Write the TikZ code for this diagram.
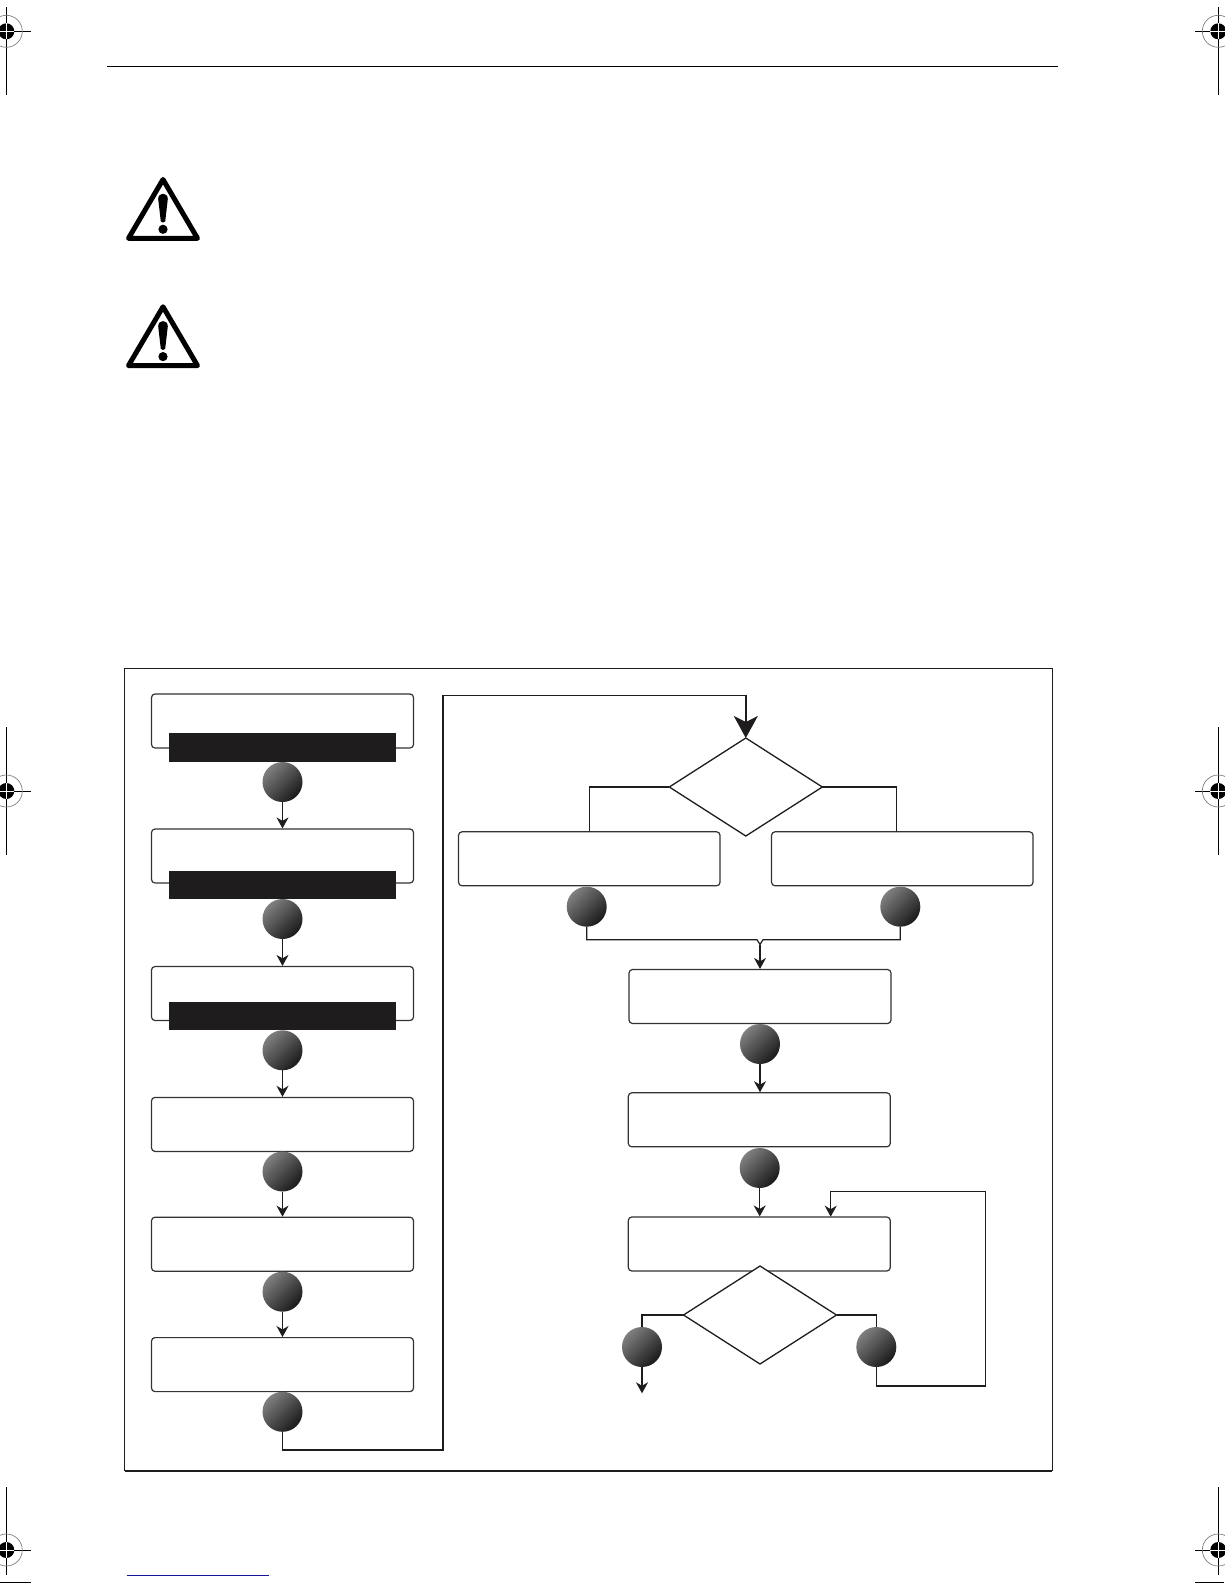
\documentclass[tikz,border=0pt]{standalone}
\usetikzlibrary{arrows.meta,shapes.geometric,calc}
\definecolor{ink}{HTML}{1E1C1C}
\definecolor{boxline}{HTML}{333333}
\definecolor{navyline}{HTML}{15159A}
\colorlet{ballhi}{black!50}
\colorlet{balllo}{black!90}
\tikzset{
  x=1pt,y=-1pt,
  procbox/.style={draw=boxline,line width=1.2pt,rounded corners=3.5pt,fill=white,minimum width=262pt,minimum height=54pt,inner sep=0pt},
  blackbar/.style={fill=ink,draw=none,minimum width=227pt,inner sep=0pt,outer sep=0pt},
  ball/.style={circle,draw=none,minimum size=40pt,inner sep=0pt,outer sep=0pt,top color=ballhi,bottom color=balllo,shading angle=45},
  choice/.style={diamond,draw=ink,line width=1.3pt,fill=white,inner sep=0pt,outer sep=0pt,minimum width=153pt,minimum height=98pt},
  conn/.style={draw=ink,line width=1.2pt},
  heavyconn/.style={draw=ink,line width=1.5pt},
  tiparrow/.style={conn,-{Stealth[length=11pt,width=12pt,inset=3.5pt]}},
  bigarrow/.style={heavyconn,-{Stealth[length=22pt,width=24pt,inset=6pt]}},
  hairline/.style={draw=black,line width=1pt},
  regmark/.pic={
    \draw[gray,line width=.7pt] (0,0) circle[radius=16];
    \fill[black] (0,0) circle[radius=8];
    \draw[white,line width=.9pt] (-8,0)--(8,0) (0,-8)--(0,8);
  }
}
\newcommand{\warnsign}[1]{%
  \begin{scope}[yshift=#1]
    \draw[black,line width=5pt,line join=round] (163,179.5)--(197.5,238.3)--(128.5,238.3)--cycle;
    \fill[black] (158.2,199) .. controls (158.2,192) and (167.8,192) .. (167.8,199)
      -- (165.2,221.5) .. controls (164.8,223) and (161.2,223) .. (160.8,221.5) -- cycle;
    \fill[black] (163,229.3) circle[radius=4.6];
  \end{scope}}
\begin{document}
\begin{tikzpicture}
\useasboundingbox (0,0) rectangle (1224,1584);
\fill[white] (0,0) rectangle (1224,1584);
% header rule
\coordinate (hl) at (107,66.3); \coordinate (hr) at (1058,66.3);
\draw[black,line width=1.1pt] (hl)--(hr);
% registration marks
\draw[hairline] (6.3,7)--(6.3,95) (6.3,31.3)--(31,31.3);
\draw[hairline] (1218.3,7)--(1218.3,95) (1218.3,31.3)--(1195,31.3);
\draw[hairline] (6.3,727)--(6.3,855) (6.3,791)--(31,791);
\draw[hairline] (1218.3,727)--(1218.3,855) (1218.3,791)--(1195,791);
\draw[hairline] (6.3,1487)--(6.3,1575) (6.3,1550)--(31,1550);
\draw[hairline] (1218.3,1487)--(1218.3,1575) (1218.3,1550)--(1195,1550);
\draw[hairline] (0,1582.3)--(31,1582.3) (1195,1582.3)--(1224,1582.3);
\pic at (6.3,31.3) {regmark};
\pic at (1218.3,31.3) {regmark};
\pic at (6.3,791) {regmark};
\pic at (1218.3,791) {regmark};
\pic at (6.3,1550) {regmark};
\pic at (1218.3,1550) {regmark};
% warning signs
\warnsign{0pt}
\warnsign{-127.3pt}
% footer rule
\coordinate (fl) at (126.7,1575); \coordinate (fr) at (268.7,1575);
\draw[navyline,line width=1pt] (fl)--(fr);
% frame
\coordinate (ftl) at (124.5,668.3); \coordinate (fbr) at (1052.3,1470.5);
\draw[ink,line width=1.2pt] (ftl) rectangle (fbr);
\draw[ink,line width=2pt] (ftl |- fbr) -- (fbr);
% left column
\node[procbox] (b1) at (282.5,721) {};
\node[blackbar,minimum height=28.7pt] (bar1) at (282.5,747.3) {};
\node[ball] (c1) at (282.5,782) {};
\node[procbox] (b2) at (282.5,856) {};
\node[blackbar,minimum height=27.7pt] (bar2) at (282.5,884.9) {};
\node[ball] (c2) at (282.5,919) {};
\node[procbox] (b3) at (282.5,993.5) {};
\node[blackbar,minimum height=28pt] (bar3) at (282.5,1016.3) {};
\node[ball] (c3) at (282.5,1050.3) {};
\node[procbox] (b4) at (282.5,1124.4) {};
\node[ball] (c4) at (282.5,1171.5) {};
\node[procbox] (b5) at (282.5,1244.2) {};
\node[ball] (c5) at (282.5,1291.7) {};
\node[procbox] (b6) at (282.5,1364.6) {};
\node[ball] (c6) at (282.5,1411.8) {};
\draw[tiparrow] (c1.south)--(b2.north);
\draw[tiparrow] (c2.south)--(b3.north);
\draw[tiparrow] (c3.south)--(b4.north);
\draw[tiparrow] (c4.south)--(b5.north);
\draw[tiparrow] (c5.south)--(b6.north);
% right column
\node[choice] (d1) at (745.8,787) {};
\node[procbox,minimum width=261.5pt] (m1) at (589.3,858.8) {};
\node[procbox,minimum width=261.5pt] (m2) at (902.3,858.8) {};
\node[ball] (cl) at (586.7,906.7) {};
\node[ball] (cr) at (900.3,906.7) {};
\node[procbox] (b7) at (760,996.5) {};
\node[ball] (c7) at (760,1044) {};
\node[procbox] (b8) at (759.3,1119.8) {};
\node[ball] (c8) at (759.7,1168) {};
\node[procbox] (b9) at (759.3,1244) {};
\node[choice] (d2) at (760,1315) {};
\node[ball] (c9) at (642,1347) {};
\node[ball] (c10) at (876.3,1347) {};
% long link to the first decision
\coordinate (lb) at (443,1450);
\coordinate (lt) at (443,695.3);
\draw[bigarrow] (c6.south) |- (lb) -- (lt) -| (d1.north);
% decision to its two boxes
\coordinate (m2in) at (896.8,831.7);
\draw[conn] (d1.west) -| (m1.north);
\draw[conn] (d1.east) -| (m2in);
% merge
\coordinate (ml) at (757,939.7);
\coordinate (mr) at (763,939.7);
\coordinate (mt) at (760,944.5);
\draw[conn] (cl.south) |- (ml) -- (mt);
\draw[conn] (cr.south) |- (mr) -- (mt);
\draw[tiparrow] (mt)--(b7.north);
\draw[tiparrow] (c7.south)--(c7.south |- b8.north);
\draw[tiparrow] (c8.south)--(c8.south |- b9.north);
% second decision
\coordinate (exit) at (642,1393.3);
\draw[conn] (d2.west) -| (c9.north);
\draw[conn] (d2.east) -| (c10.north);
\draw[tiparrow] (c9.south)--(exit);
% loop back
\coordinate (rb) at (985.7,1386);
\coordinate (rt) at (985.7,1191.7);
\coordinate (rin) at (830.7,1216.7);
\draw[heavyconn,-{Stealth[length=11pt,width=12pt,inset=3.5pt]}] (c10.south) |- (rb) -- (rt) -| (rin);
\end{tikzpicture}
\end{document}
